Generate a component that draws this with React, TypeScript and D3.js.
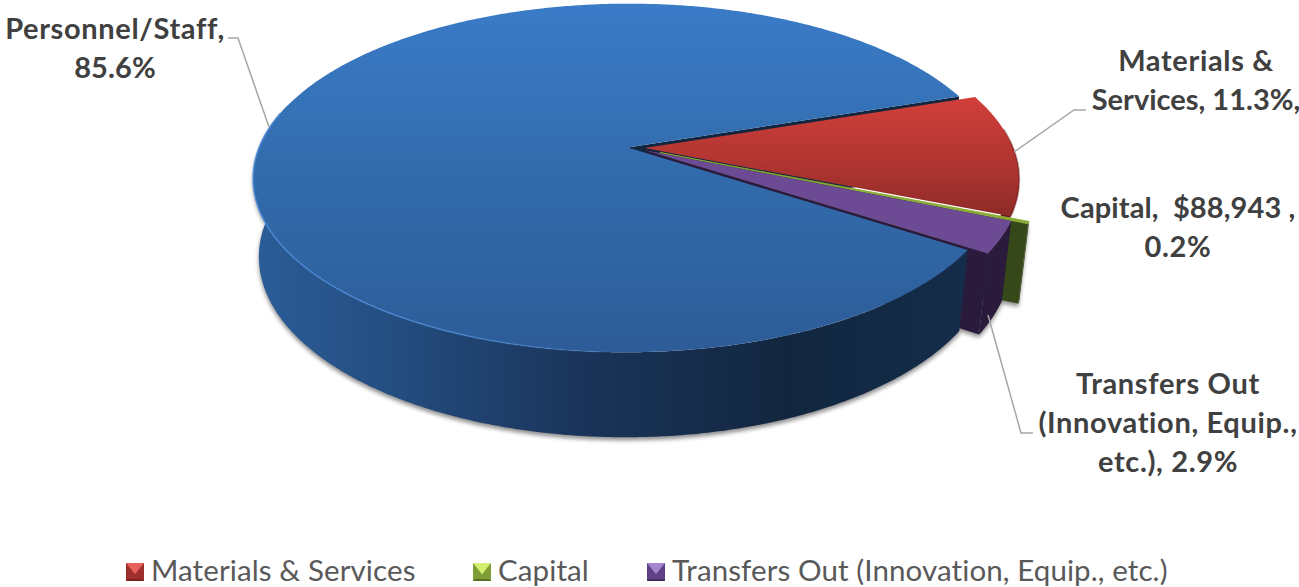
import React from "react";
import * as d3 from "d3";

const categories = ["Personnel/Staff", "Materials & Services", "Capital", "Transfers Out (Innovation, Equip., etc.)"];
const shares = [85.6, 11.3, 0.2, 2.9];
const labelLines = [
  ["Personnel/Staff,", "85.6%"],
  ["Materials &", "Services, 11.3%,"],
  ["Capital,  $88,943 ,", "0.2%"],
  ["Transfers Out", "(Innovation, Equip.,", "etc.), 2.9%"],
];

const explode = [0.0227, 0.0227, 0.07, 0.028];
const labelX = [115, 1196, 1178, 1168];
const labelY = [[39, 78], [71, 110], [218, 257], [394, 433, 472]];
const labelSpacing = [[0.65, 0.1], [0.65, 0], [0.1, 0.65], [0.65, 0.65, 0.65]];
const leaders = [
  [[228, 38], [238, 38], [269, 127]],
  [[1086, 110], [1074, 110], [1014, 152]],
  [[1033, 433], [1021, 433], [988, 315]],
];
const legendX = [126, 473, 647];

const cx = 636, cy = 178.5, rx = 374.5, ry = 174.5, persp = -0.175;
const FIRST = (123.3 * Math.PI) / 180;
const deg = Math.PI / 180;
const s = Math.sqrt(1 - persp * persp);

type P = [number, number];
const project = (u: number, v: number): P => {
  const w = 1 + persp * v;
  return [cx + (rx * u * s) / w, cy + (ry * (v + persp)) / w];
};
const drop = (p: P): P => [
  cx + (p[0] - cx) * (p[0] < cx ? 0.985 : 0.975),
  p[1] + 78.2 + (6.8 * (p[1] - cy)) / ry,
];

const pie = d3.pie<number>().sort(null).value((d) => d).startAngle(FIRST).endAngle(FIRST + 2 * Math.PI);
const arcs = pie(shares);

const offsetOf = (i: number): P => {
  const mid = (arcs[i].startAngle + arcs[i].endAngle) / 2;
  return [Math.sin(mid) * explode[i], -Math.cos(mid) * explode[i]];
};
const rimPoint = (i: number, a: number): P => {
  const [ox, oy] = offsetOf(i);
  return project(Math.sin(a) + ox, -Math.cos(a) + oy);
};
const apex = (i: number): P => {
  const [ox, oy] = offsetOf(i);
  return project(ox, oy);
};
const rim = (i: number, a0: number, a1: number): P[] => {
  const n = Math.max(2, Math.ceil(Math.abs(a1 - a0) / (0.5 * deg)));
  return d3.range(n + 1).map((k) => rimPoint(i, a0 + ((a1 - a0) * k) / n));
};
const line = d3.line<P>();
const closed = (pts: P[]) => (line(pts) as string) + "Z";
const topPath = (i: number) => closed([apex(i), ...rim(i, arcs[i].startAngle, arcs[i].endAngle)]);
const wallPath = (i: number, a0: number, a1: number) => {
  const r = rim(i, a0, a1);
  return closed([...r, ...r.map(drop).reverse()]);
};
const facePath = (i: number, a: number) => {
  const p = [apex(i), rimPoint(i, a)] as P[];
  return closed([...p, ...p.map(drop).reverse()]);
};

const blueWall = wallPath(0, arcs[0].startAngle, 285 * deg);
const blueFace = facePath(0, arcs[0].endAngle);
const redWall = wallPath(1, arcs[1].startAngle + 16 * deg, arcs[1].endAngle);
const greenFace = facePath(2, arcs[2].endAngle);
const purpleFace = facePath(3, arcs[3].endAngle);
const purpleWall = wallPath(3, arcs[3].startAngle, arcs[3].endAngle);
const greenWall = wallPath(2, arcs[2].startAngle, arcs[2].endAngle);
const blueHighlight = line(rim(0, 160 * deg, 282 * deg)) as string;
const redEdge = line(rim(1, arcs[1].startAngle + 12 * deg, arcs[1].endAngle)) as string;

const markerFill = [
  { base: "#9c2f2c", light: "#e8605c", dark: "#7a2220" },
  { base: "#7f9f36", light: "#d4ee70", dark: "#55701f" },
  { base: "#5f4187", light: "#a585d0", dark: "#402a5e" },
];

const FONT = "Lato, 'Open Sans', sans-serif";

export default function App() {
  return (
    <svg width={1299} height={587} viewBox="0 0 1299 587" style={{ position: "absolute", left: 0, top: 0, display: "block", background: "#fff" }}>
      <defs>
        <linearGradient id="blueTop" gradientUnits="userSpaceOnUse" x1="0" y1="4" x2="0" y2="353">
          <stop offset="0" stopColor="#3a7bc8" />
          <stop offset="0.5" stopColor="#326bab" />
          <stop offset="1" stopColor="#2d5c98" />
        </linearGradient>
        <linearGradient id="blueWall" gradientUnits="userSpaceOnUse" x1="253" y1="0" x2="965" y2="0">
          <stop offset="0" stopColor="#2b5d98" />
          <stop offset="0.2" stopColor="#244d80" />
          <stop offset="0.45" stopColor="#1a355b" />
          <stop offset="0.75" stopColor="#12263f" />
          <stop offset="1" stopColor="#142d4a" />
        </linearGradient>
        <linearGradient id="redTop" gradientUnits="userSpaceOnUse" x1="0" y1="97" x2="0" y2="218">
          <stop offset="0" stopColor="#d23f3a" />
          <stop offset="0.55" stopColor="#b03531" />
          <stop offset="1" stopColor="#8d2a27" />
        </linearGradient>
        <linearGradient id="hl" gradientUnits="userSpaceOnUse" x1="253" y1="0" x2="640" y2="0">
          <stop offset="0" stopColor="#4a8ad8" stopOpacity="0.9" />
          <stop offset="0.6" stopColor="#4a8ad8" stopOpacity="0.7" />
          <stop offset="1" stopColor="#4a8ad8" stopOpacity="0" />
        </linearGradient>
        <filter id="soft" x="-5%" y="-5%" width="110%" height="110%">
          <feGaussianBlur stdDeviation="2" />
        </filter>
      </defs>

      <g filter="url(#soft)" transform="translate(0,3)" fill="#000" opacity={0.45}>
        <path d={blueWall} />
        <path d={purpleWall} />
        <path d={purpleFace} />
        <path d={greenFace} />
      </g>

      <path d={blueFace} fill="#12263f" />
      <path d={redWall} fill="#66191a" />
      <path d={topPath(1)} fill="url(#redTop)" />
      <path d={redEdge} fill="none" stroke="#6e1f1e" strokeWidth={2} opacity={0.4} />
      <path d={greenFace} fill="#36471a" />
      <path d={greenWall} fill="#36471a" />
      <path d={topPath(2)} fill="#8aab34" stroke="#8aab34" strokeWidth={0.8} />
      <path d={purpleFace} fill="#2a1a3c" />
      <path d={purpleWall} fill="#2a1a3c" />
      <path d={topPath(3)} fill="#6c4a94" />
      <path d={blueWall} fill="url(#blueWall)" />
      <path d={topPath(0)} fill="url(#blueTop)" />
      <path d={blueHighlight} fill="none" stroke="url(#hl)" strokeWidth={1.5} />

      {leaders.map((l, i) => (
        <path key={i} d={line(l as P[]) as string} fill="none" stroke="#a6a6a6" strokeWidth={1.5} />
      ))}

      {labelLines.map((lines, i) => (
        <text key={i} textAnchor="middle" fontFamily={FONT} fontWeight={700} fontSize={29} fill="#404040">
          {lines.map((t, j) => (
            <tspan key={j} x={labelX[i]} y={labelY[i][j]} letterSpacing={labelSpacing[i][j]} style={{ whiteSpace: "pre" }}>{t}</tspan>
          ))}
        </text>
      ))}

      {categories.slice(1).map((name, i) => {
        const x = legendX[i], y = 563, w = 18, h = 18;
        const c = markerFill[i];
        return (
          <g key={name}>
            <rect x={x} y={y} width={w} height={h} fill={c.base} />
            <polygon points={`${x},${y} ${x + w},${y} ${x + w / 2},${y + h * 0.62}`} fill={c.light} />
            <polygon points={`${x},${y + h} ${x + w},${y + h} ${x + w - 2},${y + h - 2} ${x + 2},${y + h - 2}`} fill={c.dark} />
            <text x={x + w + 7} y={581} fontFamily={FONT} fontSize={29.5} letterSpacing={0.1} fill="#595959">{name}</text>
          </g>
        );
      })}
    </svg>
  );
}
